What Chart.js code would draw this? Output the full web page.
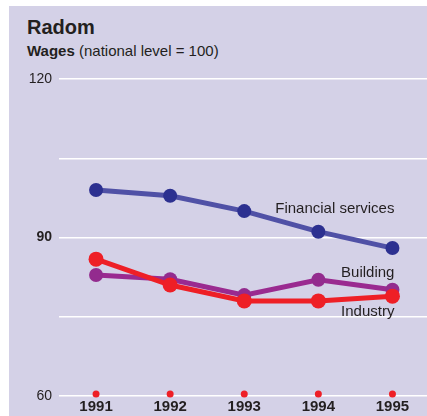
<!DOCTYPE html>
<html>
<head>
<meta charset="utf-8">
<script src="https://cdn.jsdelivr.net/npm/chart.js@4"></script>
<style>
  html, body { margin: 0; padding: 0; background: #fff; overflow: hidden; }
  body { width: 427px; height: 416px; position: relative; font-family: "Liberation Sans", Arial, sans-serif; color: #231f20; }
  #panel { position: absolute; left: 9px; top: 6px; width: 418px; height: 410px; background: #d4d1e7; }
  #title { position: absolute; left: 27px; top: 16px; font-size: 20px; font-weight: bold; }
  #sub { position: absolute; left: 27px; top: 42px; font-size: 15px; }
  #wrap { position: absolute; left: 0; top: 0; width: 437px; height: 416px; }
</style>
</head>
<body>
<div id="panel"></div>
<div id="title">Radom</div>
<div id="sub"><b>Wages</b> (national level = 100)</div>
<div id="wrap"><canvas id="myChart"></canvas></div>
<script>
const years = ['1991', '1992', '1993', '1994', '1995'];
const financial = [99, 97.9, 95, 91.1, 88];
const building = [82.9, 82.1, 79.1, 82, 80.1];
const industry = [85.9, 81, 78, 78, 78.9];
const baseline = [60.4, 60.4, 60.4, 60.4, 60.4];
const yTicks = [60, 90, 120];

// series labels, drawn next to the last point
const seriesLabels = [
  { text: 'Financial services', ds: 0, dy: -39 },
  { text: 'Building', ds: 1, dy: -17 },
  { text: 'Industry', ds: 2, dy: 16 }
];

const labelPlugin = {
  id: 'seriesLabels',
  afterDatasetsDraw(chart) {
    const ctx = chart.ctx;
    ctx.save();
    ctx.font = '15px "Liberation Sans", Arial, sans-serif';
    ctx.fillStyle = '#231f20';
    ctx.textAlign = 'right';
    ctx.textBaseline = 'middle';
    seriesLabels.forEach(l => {
      const pts = chart.getDatasetMeta(l.ds).data;
      const p = pts[pts.length - 1];
      ctx.fillText(l.text, p.x + 2, p.y + l.dy);
    });
    ctx.restore();
  }
};

const data = {
  labels: years,
  datasets: [{
    label: 'Financial services',
    data: financial,
    borderColor: '#5051a6',
    backgroundColor: '#2c3090',
    pointBackgroundColor: '#2c3090',
    borderWidth: 5,
    pointRadius: 7,
    pointBorderWidth: 0,
    order: 2
  }, {
    label: 'Building',
    data: building,
    borderColor: '#9a2a90',
    backgroundColor: '#932b8e',
    pointBackgroundColor: '#932b8e',
    borderWidth: 5,
    pointRadius: 7,
    pointBorderWidth: 0,
    order: 1
  }, {
    label: 'Industry',
    data: industry,
    borderColor: '#ee1f26',
    backgroundColor: '#ee1f26',
    pointBackgroundColor: '#ee1f26',
    borderWidth: 5,
    pointRadius: 7.5,
    pointBorderWidth: 0,
    order: 0
  }, {
    label: 'base',
    data: baseline,
    showLine: false,
    clip: false,
    pointBackgroundColor: '#ee1f26',
    pointRadius: 3.5,
    pointBorderWidth: 0,
    order: 3
  }]
};

const config = {
  type: 'line',
  data,
  options: {
    responsive: true,
    maintainAspectRatio: false,
    animation: false,
    layout: { padding: { top: 79, right: 0, left: 0, bottom: 0 } },
    plugins: { legend: { display: false }, tooltip: { enabled: false } },
    scales: {
      x: {
        offset: true,
        grid: { display: false, drawTicks: false },
        border: { display: false },
        afterFit: s => { s.height = 20; s.paddingLeft = 0; s.paddingRight = 0; },
        ticks: {
          padding: 2,
          color: '#231f20',
          font: { family: '"Liberation Sans", Arial, sans-serif', size: 15, weight: 'bold' }
        }
      },
      y: {
        min: 60,
        max: 120,
        border: { display: false },
        afterFit: s => { s.width = 59; s.paddingTop = 0; s.paddingBottom = 0; },
        grid: { color: '#ffffff', lineWidth: 1.5, drawTicks: false },
        afterBuildTicks: s => {
          s.ticks = [60, 75, 90, 105, 120].map(v => ({ value: v }));
        },
        ticks: {
          padding: 7,
          color: '#231f20',
          font: ctx => ({
            family: '"Liberation Sans", Arial, sans-serif',
            size: 14,
            weight: ctx.tick && ctx.tick.value === 90 ? 'bold' : 'normal'
          }),
          callback: v => yTicks.includes(v) ? String(v) : ''
        }
      }
    }
  },
  plugins: [labelPlugin]
};

const myChart = new Chart(document.getElementById('myChart'), config);
</script>
</body>
</html>
